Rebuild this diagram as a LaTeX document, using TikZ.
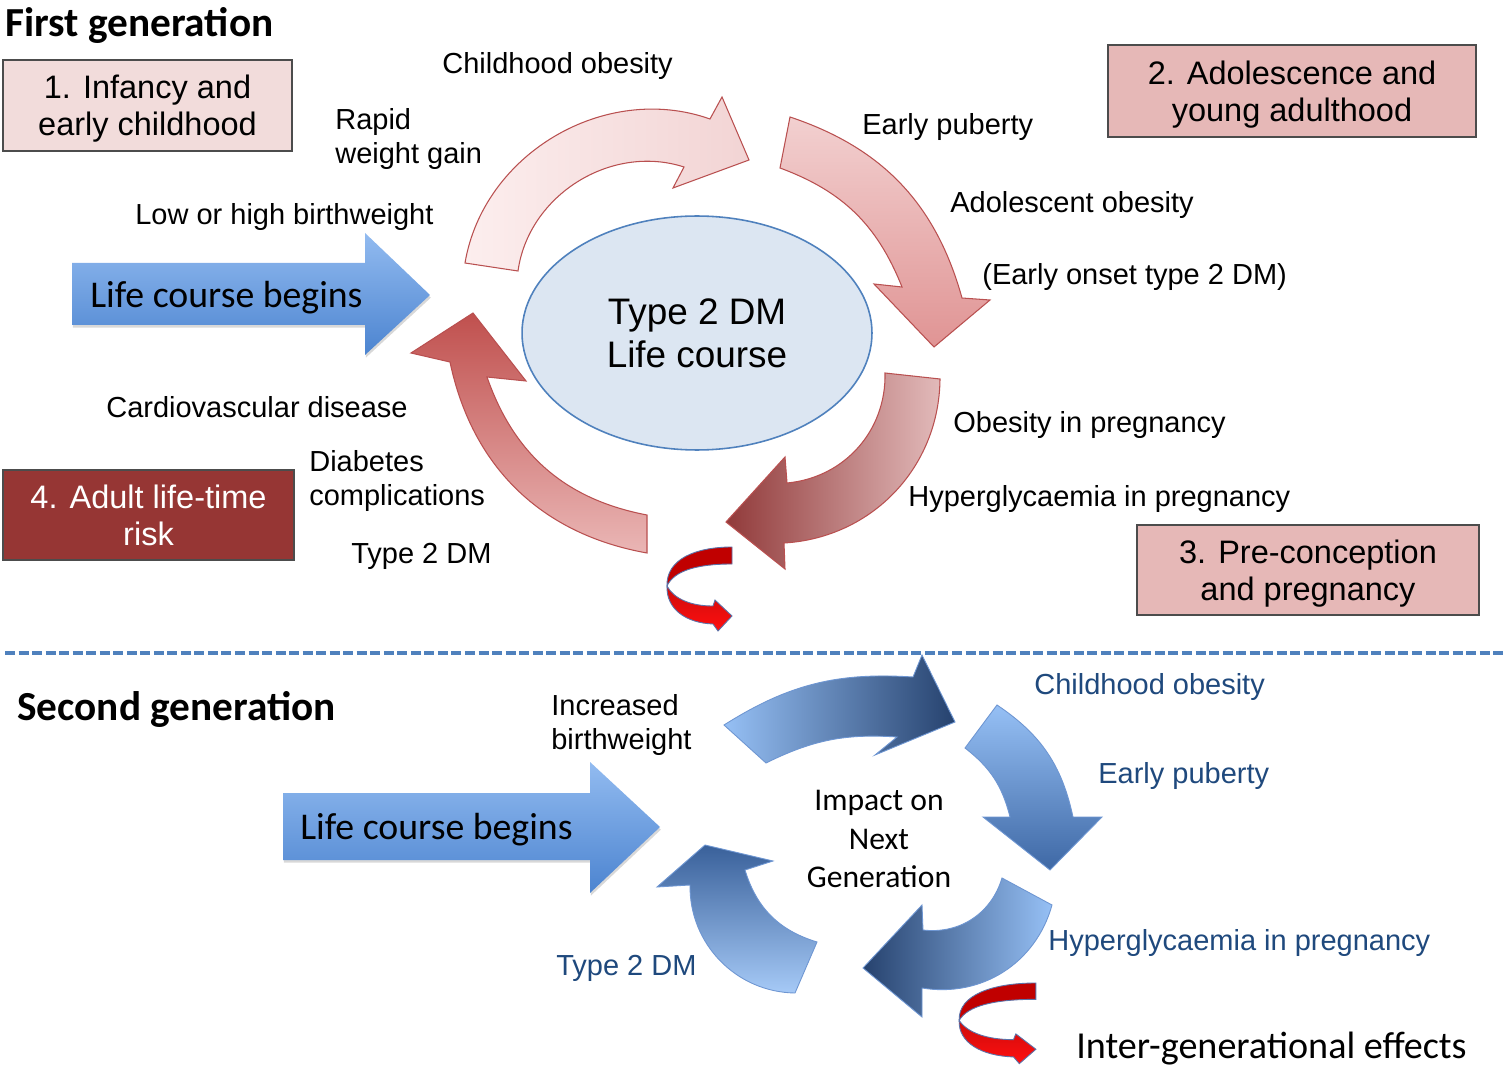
\documentclass[tikz,border=0pt]{standalone}
\usepackage{fontspec}
\setmainfont{Liberation Sans}
\newfontfamily\calibri{Carlito}
\usetikzlibrary{shapes.geometric,shadows}

\definecolor{boxpink}{RGB}{242,220,219}
\definecolor{boxrose}{RGB}{230,184,183}
\definecolor{boxwine}{RGB}{150,54,52}
\definecolor{ovalfill}{RGB}{220,230,242}
\definecolor{ovaledge}{RGB}{79,129,189}
\definecolor{labelblue}{RGB}{31,73,125}
\definecolor{beginlight}{RGB}{146,187,240}
\definecolor{begindark}{RGB}{76,132,208}
\definecolor{ringedge}{RGB}{185,80,80}
\definecolor{ringblueedge}{RGB}{110,150,210}
\definecolor{blushlight}{RGB}{252,238,238}
\definecolor{blushdark}{RGB}{242,212,212}
\definecolor{roselight}{RGB}{242,208,208}
\definecolor{rosedark}{RGB}{224,148,148}
\definecolor{winelight}{RGB}{226,186,186}
\definecolor{winedark}{RGB}{145,58,58}
\definecolor{brickdark}{RGB}{192,80,78}
\definecolor{bricklight}{RGB}{234,182,181}
\definecolor{skylight}{RGB}{150,192,245}
\definecolor{navydark}{RGB}{38,66,110}
\definecolor{steeldark}{RGB}{62,104,165}
\definecolor{twistdark}{RGB}{192,0,0}
\definecolor{twistbright}{RGB}{255,15,15}
\definecolor{twistline}{RGB}{90,115,170}

\tikzset{
  note/.style={anchor=west, inner sep=0pt, align=left, text depth=0pt,
    font=\fontsize{16.5}{19.8}\selectfont},
  bluenote/.style={note, text=labelblue},
  heading/.style={anchor=west, inner sep=0pt, text depth=0pt,
    font=\calibri\bfseries\fontsize{23.5}{28}\selectfont},
  stagebox/.style={draw=black!70, line width=0.9pt, align=center, inner sep=0pt,
    text depth=0pt, font=\fontsize{18.5}{21}\selectfont},
  core/.style={ellipse, draw=ovaledge, line width=0.9pt, fill=ovalfill, align=center,
    inner sep=0pt, font=\fontsize{21}{24.5}\selectfont},
  begintext/.style={anchor=west, inner sep=0pt, text depth=0pt,
    font=\calibri\fontsize{21.5}{26}\selectfont},
  beginarrow/.style={top color=beginlight, bottom color=begindark,
    drop shadow={opacity=0.3, shadow xshift=0.5pt, shadow yshift=-1.5pt}},
  ringred/.style={draw=ringedge, line width=0.6pt},
  ringblue/.style={draw=ringblueedge, line width=0.5pt},
  twistedge/.style={draw=twistline, line width=0.5pt},
  divider/.style={draw=ovaledge, line width=2.3pt, dash pattern=on 5.7pt off 2pt},
  % red ribbon arrow, drawn from its top left corner
  twist/.pic={
    \path[twistedge, fill=twistdark] (66,0) .. controls (30,0) and (0,12) .. (1,39)
      .. controls (8,24) and (30,17) .. (66,17) -- cycle;
    \path[twistedge, top color=twistbright!80!black, bottom color=twistbright]
      (1,39) .. controls (8,52) and (25,59) .. (47,59) -- (49,53) -- (66,69)
      -- (52,84) -- (47,77) .. controls (20,76) and (0,62) .. (1,39) -- cycle;
  }
}

\begin{document}
\begin{tikzpicture}[x=0.02cm, y=-0.02cm]
\fill[white] (0,0) rectangle (1511,1067);
\useasboundingbox (0,0) rectangle (1511,1067);

%% first generation
\node[heading] (firstgen) at (5,22) {First generation};

\node[stagebox, fill=boxpink, minimum width=5.78cm, minimum height=1.82cm] (stage1) at (147.5,105.5) {1. Infancy and\\early childhood};
\node[stagebox, fill=boxrose, minimum width=7.36cm, minimum height=1.84cm] (stage2) at (1292,91) {2. Adolescence and\\young adulthood};
\node[stagebox, fill=boxrose, minimum width=6.84cm, minimum height=1.80cm] (stage3) at (1308,570) {3. Pre-conception\\and pregnancy};
\node[stagebox, fill=boxwine, text=white, minimum width=5.82cm, minimum height=1.80cm] (stage4) at (148.5,515) {4. Adult life-time\\risk};

\node[core, minimum width=7cm, minimum height=4.68cm] (core1) at (697,333) {Type 2 DM\\Life course};

% cycle of curved arrows
\path[ringred, left color=blushlight, right color=blushdark]
  (465,263) to[bend left=50] (710,119) -- (722,97) -- (749,160) -- (673,188)
  -- (684,167) to[bend right=50] (518,271) -- cycle;
\path[ringred, top color=roselight, bottom color=rosedark]
  (790,117) to[bend left=28] (962,298) -- (990,300) -- (934,347) -- (874,284)
  -- (902,287) to[bend right=24] (780,168) -- cycle;
\path[ringred, left color=winedark, right color=winelight]
  (940,379) to[bend left=43] (784,543) -- (785,569) -- (726,522) -- (785,457)
  -- (787,483) to[bend right=43] (885,373) -- cycle;
\path[ringred, top color=brickdark, bottom color=bricklight]
  (647,553) to[bend left=34] (450,362) -- (411,353) -- (473,313) -- (526,381)
  -- (487,377) to[bend right=30] (647,515) -- cycle;

% start arrow
\path[beginarrow] (72,263) -- (365,263) -- (365,233) -- (430,295) -- (365,355)
  -- (365,325) -- (72,325) -- cycle;
\node[begintext] (begin1) at (90,294) {Life course begins};

\node[note] (childob1) at (442,63) {Childhood obesity};
\node[note] (rapid) at (335,136) {Rapid\\weight gain};
\node[note] (lowbirth) at (135,214) {Low or high birthweight};
\node[note] (puberty1) at (862,124) {Early puberty};
\node[note] (adolob) at (950,202) {Adolescent obesity};
\node[note] (onset) at (982,274) {(Early onset type 2 DM)};
\node[note] (cvd) at (106,407) {Cardiovascular disease};
\node[note] (diabcomp) at (309,478) {Diabetes\\complications};
\node[note] (t2dm1) at (351,553) {Type 2 DM};
\node[note] (obpreg) at (953,422) {Obesity in pregnancy};
\node[note] (hyper1) at (908,496) {Hyperglycaemia in pregnancy};

\pic at (666,547) {twist};

%% split between generations
\coordinate (splitL) at (5,653);
\coordinate (splitR) at (1505,653);
\draw[divider] (splitL) -- (splitR);

%% second generation
\node[heading] (secondgen) at (17,706) {Second generation};

\path[ringblue, left color=skylight, right color=navydark]
  (724,725) to[bend left=18] (913,677) -- (922,655) -- (955,722) -- (875,755)
  -- (897,737) to[bend right=15] (766,763) -- cycle;
\path[ringblue, top color=skylight, bottom color=steeldark]
  (997,705) to[bend left=22] (1073,817) -- (1102,817) -- (1050,870) -- (983,817)
  -- (1010,817) to[bend right=19] (965,748) -- cycle;
\path[ringblue, left color=navydark, right color=skylight]
  (1052,905) to[bend left=42] (922,988) -- (922,1017) -- (863,968) -- (922,905)
  -- (923,930) to[bend right=40] (1002,878) -- cycle;
\path[ringblue, top color=steeldark!80!navydark, bottom color=skylight!85!white]
  (795,993) to[bend left=45] (690,885) -- (657,887) -- (705,845) -- (773,861)
  -- (745,870) to[bend right=28] (817,942) -- cycle;

\node[align=center, inner sep=0pt, font=\calibri\fontsize{18}{21.8}\selectfont] (impact) at (879,839) {Impact on\\Next\\Generation};

\path[beginarrow] (283,793) -- (590,793) -- (590,762) -- (660,827) -- (590,893)
  -- (590,860) -- (283,860) -- cycle;
\node[begintext] (begin2) at (300,826) {Life course begins};

\node[note] (incbirth) at (551,722) {Increased\\birthweight};
\node[bluenote] (childob2) at (1034,684) {Childhood obesity};
\node[bluenote] (puberty2) at (1098,773) {Early puberty};
\node[bluenote] (hyper2) at (1048,940) {Hyperglycaemia in pregnancy};
\node[bluenote] (t2dm2) at (556,965) {Type 2 DM};

\pic[xscale=1.18, yscale=0.96] at (958,983) {twist};
\node[begintext, font=\calibri\fontsize{21.7}{26}\selectfont] (intergen) at (1076,1045) {Inter-generational effects};
\end{tikzpicture}
\end{document}
